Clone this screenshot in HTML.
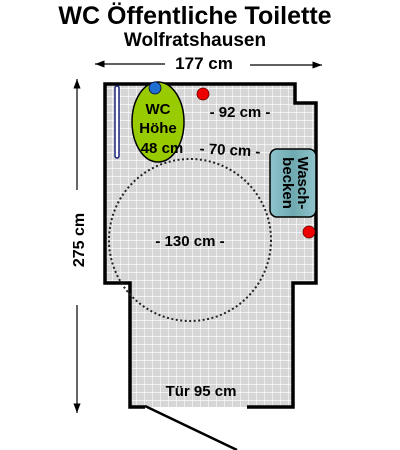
<!DOCTYPE html>
<html><head><meta charset="utf-8"><style>
body{margin:0;background:#fff;width:400px;height:450px;overflow:hidden}
svg{display:block;font-family:"Liberation Sans",Arial,sans-serif;font-weight:bold}
</style></head><body>
<svg width="400" height="450" viewBox="0 0 400 450">
<defs>
<pattern id="tiles" x="0" y="0" width="8" height="8" patternUnits="userSpaceOnUse">
<rect width="8" height="8" fill="#d6d6d6"/>
<path d="M0 0H8M0 0V8" stroke="#fff" stroke-width="1.2"/>
</pattern>
<linearGradient id="sink" x1="0" x2="1"><stop offset="0" stop-color="#8fc4cc"/><stop offset="0.5" stop-color="#6fa9b0"/><stop offset="1" stop-color="#8fc4cc"/></linearGradient>
<marker id="ah" markerWidth="8" markerHeight="6" refX="8" refY="3" orient="auto"><path d="M0 0L8 3L0 6z" fill="#000"/></marker>
</defs>
<text x="195" y="24" font-size="25" text-anchor="middle">WC Öffentliche Toilette</text>
<text x="195" y="46" font-size="19" text-anchor="middle">Wolfratshausen</text>
<text x="204" y="69" font-size="17" text-anchor="middle">177 cm</text>
<line x1="165" y1="64" x2="95" y2="64" stroke="#000" stroke-width="1.2" marker-end="url(#ah)"/>
<line x1="250" y1="65" x2="322" y2="65" stroke="#000" stroke-width="1.2" marker-end="url(#ah)"/>
<line x1="77" y1="190" x2="77" y2="79" stroke="#000" stroke-width="1.2" marker-end="url(#ah)"/>
<line x1="77" y1="305" x2="77" y2="413" stroke="#000" stroke-width="1.2" marker-end="url(#ah)"/>
<text transform="translate(84,240) rotate(-90)" font-size="16" text-anchor="middle">275 cm</text>
<path d="M105 84H295V103H316V283H293V407H130V283H105Z" fill="url(#tiles)"/>
<path d="M145 407H130V283H105V84H295V103H316V283H293V407H247" fill="none" stroke="#000" stroke-width="3.5"/>
<circle cx="190" cy="240" r="81" fill="none" stroke="#222" stroke-width="2" stroke-dasharray="2 2.5"/>
<text x="190" y="246" font-size="15" text-anchor="middle">- 130 cm -</text>
<rect x="115" y="86" width="4" height="72" rx="2" fill="#fff" stroke="#1a237e" stroke-width="1.5"/>
<ellipse cx="158" cy="122" rx="26" ry="40" fill="#99cc00" stroke="#000" stroke-width="1.5"/>
<text x="158" y="114" font-size="15" text-anchor="middle">WC</text>
<text x="158" y="133" font-size="15" text-anchor="middle">Höhe</text>
<text x="162" y="153" font-size="15" text-anchor="middle">48 cm</text>
<circle cx="155" cy="88" r="6" fill="#1f6fd0" stroke="#003" stroke-width="0.8"/>
<circle cx="203" cy="94" r="6" fill="#e00" stroke="#600" stroke-width="0.8"/>
<circle cx="309" cy="232" r="6" fill="#e00" stroke="#600" stroke-width="0.8"/>
<text x="240" y="117" font-size="15" text-anchor="middle">- 92 cm -</text>
<text x="230" y="155" font-size="15" text-anchor="middle" transform="rotate(3 230 150)">- 70 cm -</text>
<rect x="270" y="149" width="46" height="68" rx="7" fill="url(#sink)" stroke="#000" stroke-width="1.5"/>
<text transform="translate(298,183) rotate(90)" font-size="15" text-anchor="middle">Wasch-</text>
<text transform="translate(283,183) rotate(90)" font-size="15" text-anchor="middle">becken</text>
<text x="201" y="396" font-size="15" text-anchor="middle">Tür 95 cm</text>
<line x1="145" y1="406" x2="237" y2="450" stroke="#000" stroke-width="2.5"/>
</svg>
</body></html>
